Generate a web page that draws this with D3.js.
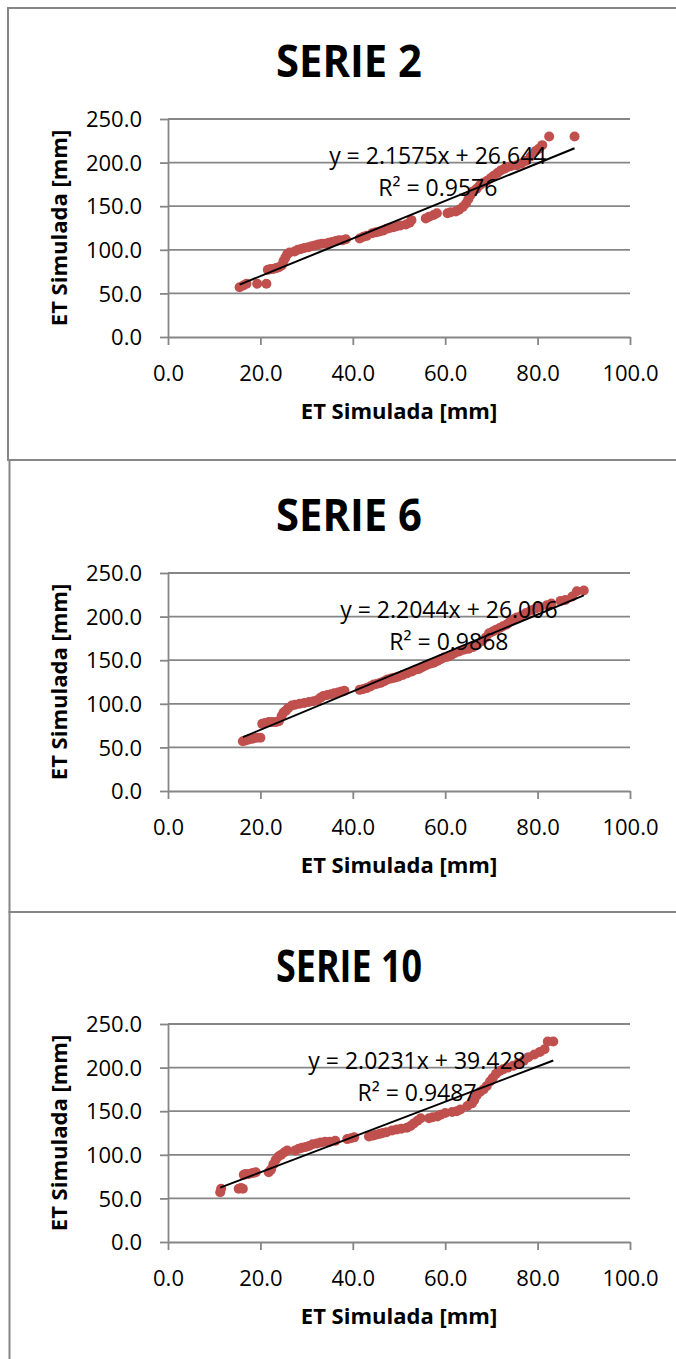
<!DOCTYPE html>
<html>
<head>
<meta charset="utf-8">
<script src="https://cdn.jsdelivr.net/npm/d3@7"></script>
<style>
  html, body { margin: 0; padding: 0; background: #fff; }
  svg { display: block; font-family: "Open Sans", "Noto Sans", sans-serif; }
</style>
</head>
<body>
<script>
// ---- Data: ET values [mm], one pair [x, y] per point ----
const titles = ["SERIE 2", "SERIE 6", "SERIE 10"];

const serie2 = [
  [15.5,57],[16.3,59],[17.0,61],[19.3,61],[21.3,61],[21.6,77],[22.2,78],[22.8,78],[23.4,79],[24.0,80],
  [24.6,82],[25.0,87],[25.4,91],[25.8,95],[26.3,97],[27.4,98],[28.1,100],[28.8,101],[29.5,102],[30.4,103],
  [31.1,104],[31.8,105],[32.5,106],[33.3,107],[34.0,107],[34.8,108],[35.5,109],[36.3,110],[37.0,111],[37.8,111],
  [38.5,112],[41.5,113],[42.3,115],[43.0,116],[44.2,119],[45.0,120],[45.8,121],[46.5,122],[47.3,124],[48.0,125],
  [48.8,126],[49.5,127],[50.3,128],[51.5,129],[52.3,131],[52.7,134],[55.8,136],[56.5,138],[57.5,140],[58.2,142],
  [60.5,142],[61.2,143],[62.3,144],[63.0,146],[63.8,149],[64.5,153],[65.0,158],[65.5,163],[66.0,167],[66.8,170],
  [67.5,174],[68.3,177],[69.0,179],[69.8,182],[70.5,185],[71.3,188],[72.0,191],[72.8,193],[73.5,195],[74.3,196],
  [75.5,197],[76.5,199],[77.5,202],[78.5,207],[79.5,213],[80.3,216],[81.0,220],[82.5,230],[88.0,230]
];

const serie6 = [
  [16.2,57],[16.8,58],[17.5,59],[18.3,60],[19.2,61],[20.0,61],[20.4,77],[21.0,78],[21.8,79],[22.5,79],
  [23.3,79],[24.0,80],[24.6,86],[25.0,90],[25.5,92],[26.0,95],[26.8,98],[27.5,99],[28.5,100],[29.5,101],
  [30.5,102],[31.5,103],[32.3,104],[33.0,107],[33.6,109],[34.5,110],[35.3,111],[36.0,112],[36.8,113],[37.5,114],
  [38.2,115],[41.5,116],[42.3,117],[43.0,118],[43.8,120],[44.5,122],[45.3,123],[46.0,124],[46.8,126],[47.5,128],
  [48.3,129],[49.0,130],[49.8,131],[50.8,133],[51.8,135],[52.8,137],[53.5,139],[54.3,140],[55.0,142],[55.8,144],
  [56.7,146],[57.5,147],[58.3,149],[59.0,151],[59.8,153],[60.5,154],[61.3,156],[62.0,158],[63.0,160],[64.0,162],
  [65.0,163],[66.0,165],[67.0,168],[68.0,172],[68.8,176],[69.5,181],[70.3,183],[71.0,185],[71.8,187],[72.5,189],
  [73.3,191],[74.0,194],[74.8,197],[75.5,199],[76.5,201],[77.5,204],[78.5,207],[79.5,209],[80.5,211],[82.0,213],
  [83.0,215],[85.0,218],[86.0,219],[87.5,223],[88.5,229],[90.0,230]
];

const serie10 = [
  [11.3,57],[11.5,61],[15.3,61],[15.8,62],[16.2,61],[16.4,77],[16.8,78],[17.5,78],[18.3,79],[19.0,80],
  [21.8,80],[22.3,83],[22.8,89],[23.3,94],[23.9,98],[24.5,100],[25.2,103],[25.8,105],[27.5,105],[28.3,107],
  [29.0,108],[29.8,109],[30.5,110],[31.3,112],[32.2,113],[33.0,114],[34.0,115],[35.0,115],[36.2,116],[38.8,118],
  [39.6,119],[40.3,120],[43.5,121],[44.3,122],[45.0,123],[45.8,124],[46.5,125],[47.3,126],[48.5,128],[49.5,129],
  [50.5,130],[51.7,131],[52.5,133],[53.2,136],[54.0,139],[54.7,142],[56.5,142],[57.3,143],[58.3,144],[59.0,146],
  [60.0,148],[61.5,149],[62.5,150],[63.3,152],[64.8,156],[65.8,159],[66.3,163],[66.8,168],[67.5,172],[68.3,175],
  [69.0,179],[69.7,184],[70.3,188],[71.0,193],[71.8,196],[72.5,198],[73.5,200],[74.7,202],[75.8,205],[77.0,208],
  [78.0,212],[79.3,215],[80.5,218],[81.5,221],[82.2,230],[83.4,230]
];

// Linear trend lines: y = slope * x + intercept
const slopes = [2.1575, 2.2044, 2.0231];
const intercepts = [26.644, 26.006, 39.428];
const rSquared = [0.9576, 0.9868, 0.9487];

const xTicks = [0, 20, 40, 60, 80, 100];
const yTicks = [0, 50, 100, 150, 200, 250];
const axisTitle = "ET Simulada [mm]";

// ---- Layout ----
const W = 676, H = 1359;
const panelTops = [8, 460, 912];
const panelLefts = [8, 9.5, 9.5];
const panelHeights = [452, 452, 520];
const panelWidth = 690;
const plotTops = [119, 573, 1024];
const plotLeft = 168, plotRight = 630, plotHeight = 218;
// trend label anchors, in data units
const labelAnchors = [[58.4, 198], [60.8, 198], [53.9, 198]];

const gridColor = "#868686";
const markerColor = "#C0504D";

const svg = d3.select("body").append("svg")
  .attr("width", W).attr("height", H);

const seriesList = [serie2, serie6, serie10];

seriesList.forEach((data, i) => {
  // panel frame
  svg.append("rect")
    .attr("x", panelLefts[i]).attr("y", panelTops[i])
    .attr("width", panelWidth).attr("height", panelHeights[i])
    .attr("fill", "none").attr("stroke", gridColor).attr("stroke-width", 2);

  const top = plotTops[i];
  const bottom = top + plotHeight;
  const x = d3.scaleLinear().domain([0, 100]).range([plotLeft, plotRight]);
  const y = d3.scaleLinear().domain([0, 250]).range([bottom, top]);

  const g = svg.append("g");

  // horizontal gridlines
  g.append("g").selectAll("line").data(yTicks.filter(d => d > 0)).join("line")
    .attr("x1", plotLeft).attr("x2", plotRight)
    .attr("y1", d => y(d)).attr("y2", d => y(d))
    .attr("stroke", gridColor).attr("stroke-width", 1.8);

  // y axis
  const yAxis = g.append("g").attr("transform", `translate(${plotLeft},0)`)
    .call(d3.axisLeft(y).tickValues(yTicks).tickSize(8).tickSizeOuter(0)
      .tickPadding(18).tickFormat(d => d.toFixed(1)));
  // x axis
  const xAxis = g.append("g").attr("transform", `translate(0,${bottom})`)
    .call(d3.axisBottom(x).tickValues(xTicks).tickSize(8).tickSizeOuter(0)
      .tickFormat(d => d.toFixed(1)));

  [yAxis, xAxis].forEach(ax => {
    ax.select(".domain").attr("stroke", gridColor).attr("stroke-width", 1.8);
    ax.selectAll(".tick line").attr("stroke", gridColor).attr("stroke-width", 1.8);
    ax.selectAll(".tick text")
      .attr("fill", "#000").attr("font-size", 22)
      .attr("font-family", "'Open Sans', sans-serif");
  });
  yAxis.selectAll(".tick text").attr("dy", "0.35em");
  xAxis.selectAll(".tick text").attr("y", 44).attr("dy", 0);

  // points
  g.append("g").selectAll("circle").data(data).join("circle")
    .attr("cx", d => x(d[0])).attr("cy", d => y(d[1]))
    .attr("r", 5).attr("fill", markerColor);

  // trend line across the observed x range
  const [xMin, xMax] = d3.extent(data, d => d[0]);
  const fit = v => slopes[i] * v + intercepts[i];
  g.append("line")
    .attr("x1", x(xMin)).attr("y1", y(fit(xMin)))
    .attr("x2", x(xMax)).attr("y2", y(fit(xMax)))
    .attr("stroke", "#000").attr("stroke-width", 2);

  // trend equation and R²
  const [ax0, ay0] = labelAnchors[i];
  const lbl = g.append("g").attr("font-size", 23).attr("fill", "#000")
    .attr("text-anchor", "middle");
  lbl.append("text")
    .attr("x", x(ax0)).attr("y", y(ay0))
    .text(`y = ${slopes[i].toFixed(4)}x + ${intercepts[i].toFixed(3)}`);
  lbl.append("text")
    .attr("x", x(ax0)).attr("y", y(ay0) + 32)
    .text(`R² = ${rSquared[i].toFixed(4)}`);

  // chart title
  svg.append("text")
    .attr("x", 349).attr("y", top - 42)
    .attr("text-anchor", "middle")
    .attr("font-size", 44).attr("font-weight", "bold")
    .attr("textLength", 146).attr("lengthAdjust", "spacingAndGlyphs")
    .text(titles[i]);

  // axis titles
  svg.append("text")
    .attr("x", (plotLeft + plotRight) / 2).attr("y", bottom + 82)
    .attr("text-anchor", "middle")
    .attr("font-size", 22).attr("font-weight", "bold")
    .text(axisTitle);
  svg.append("text")
    .attr("transform", `translate(67,${(top + bottom) / 2}) rotate(-90)`)
    .attr("text-anchor", "middle")
    .attr("font-size", 22).attr("font-weight", "bold")
    .text(axisTitle);
});
</script>
</body>
</html>
